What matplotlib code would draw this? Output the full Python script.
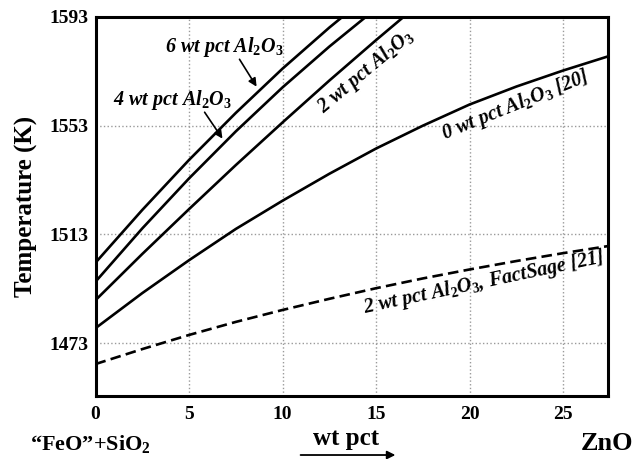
import matplotlib
matplotlib.use("Agg")
import matplotlib.pyplot as plt

plt.rcParams['font.family'] = ['Liberation Serif', 'DejaVu Serif']
plt.rcParams['font.weight'] = 'bold'
plt.rcParams['mathtext.fontset'] = 'custom'
plt.rcParams['mathtext.rm'] = 'Liberation Serif:bold'
plt.rcParams['mathtext.bf'] = 'Liberation Serif:bold'
plt.rcParams['mathtext.it'] = 'Liberation Serif:italic:bold'

# Data (ZnO wt pct vs temperature)
x_al = [0, 2.5, 5, 7.5, 10, 12.5, 15, 17.5]
t_al6 = [1502.6, 1522.0, 1540.4, 1557.7, 1574.0, 1589.1, 1603.2, 1616.0]
t_al4 = [1495.6, 1515.2, 1533.6, 1550.9, 1567.1, 1582.1, 1596.1, 1609.0]
t_al2 = [1488.8, 1505.8, 1522.3, 1538.5, 1554.2, 1569.6, 1584.5, 1599.0]

x_al0 = [0, 2.5, 5, 7.5, 10, 12.5, 15, 17.5, 20, 22.5, 25, 27.4]
t_al0 = [1478.5, 1491.4, 1503.5, 1515.0, 1525.4, 1535.3, 1544.6, 1553.0,
         1560.8, 1567.4, 1573.3, 1578.5]
t_fs = [1465.3, 1470.8, 1476.0, 1480.8, 1485.2, 1489.3, 1493.2, 1496.8,
        1500.1, 1503.2, 1506.1, 1508.7]

xticks = [0, 5, 10, 15, 20, 25]
yticks = [1473, 1513, 1553, 1593]

fig = plt.figure(figsize=(6.35, 4.59), dpi=100)
ax = fig.add_axes([0.1504, 0.137, 0.8071, 0.826])

lw = 1.9
ax.plot(x_al, t_al6, color='black', lw=lw)
ax.plot(x_al, t_al4, color='black', lw=lw)
ax.plot(x_al, t_al2, color='black', lw=lw)
ax.plot(x_al0, t_al0, color='black', lw=lw)
ax.plot(x_al0, t_fs, color='black', lw=lw, linestyle=(0, (4, 2)))

ax.set_xlim(0, 27.4)
ax.set_ylim(1453.5, 1593)
ax.set_xticks(xticks)
ax.set_yticks(yticks)
ax.grid(True, linestyle=':', color='#9a9a9a', linewidth=1.0)
ax.tick_params(axis='both', length=0, labelsize=14)
ax.tick_params(axis='x', pad=7)
ax.tick_params(axis='y', pad=5)
for lab in ax.get_xticklabels() + ax.get_yticklabels():
    lab.set_fontweight('bold')
for s in ax.spines.values():
    s.set_linewidth(2.2)

ax.set_ylabel('Temperature (K)', fontsize=18, fontweight='bold')
ax.yaxis.set_label_coords(-0.112, 0.5)

ann = dict(fontsize=14.5, fontstyle='italic', fontweight='bold')
ax.text(3.72, 1580.1, r'6 wt pct Al$_\mathit{2}$O$_\mathit{3}$', ha='left', va='baseline', **ann)
ax.text(0.94, 1560.6, r'4 wt pct Al$_\mathit{2}$O$_\mathit{3}$', ha='left', va='baseline', **ann)
ax.annotate('', xy=(8.69, 1566.5), xytext=(7.62, 1578.3),
            arrowprops=dict(arrowstyle='-|>', color='black', lw=1.2, mutation_scale=12))
ax.annotate('', xy=(6.87, 1547.4), xytext=(5.75, 1558.8),
            arrowprops=dict(arrowstyle='-|>', color='black', lw=1.2, mutation_scale=12))
ax.text(14.45, 1572.8, r'2 wt pct Al$_\mathit{2}$O$_\mathit{3}$', ha='center', va='center',
        rotation=40, rotation_mode='anchor', **ann)
ax.text(22.45, 1560.6, r'0 wt pct Al$_\mathit{2}$O$_\mathit{3}$ [20]', ha='center', va='center',
        rotation=22, rotation_mode='anchor', **ann)
ax.text(20.75, 1495.3, r'2 wt pct Al$_\mathit{2}$O$_\mathit{3}$, FactSage [21]', ha='center',
        va='center', rotation=12, rotation_mode='anchor', **ann)

fig.text(0.047, 0.0196, r'“FeO”+SiO$_\mathbf{2}$', fontsize=16, fontweight='bold',
         ha='left', va='baseline')
fig.text(0.545, 0.0305, 'wt pct', fontsize=18, fontweight='bold', ha='center', va='baseline')
fig.text(0.997, 0.0196, 'ZnO', fontsize=19, fontweight='bold', ha='right', va='baseline')
fig.add_artist(matplotlib.patches.FancyArrowPatch(
    (0.469, 0.0087), (0.627, 0.0087), transform=fig.transFigure,
    arrowstyle='-|>', color='black', lw=1.3, mutation_scale=12))

fig.savefig('out.png', dpi=100)
